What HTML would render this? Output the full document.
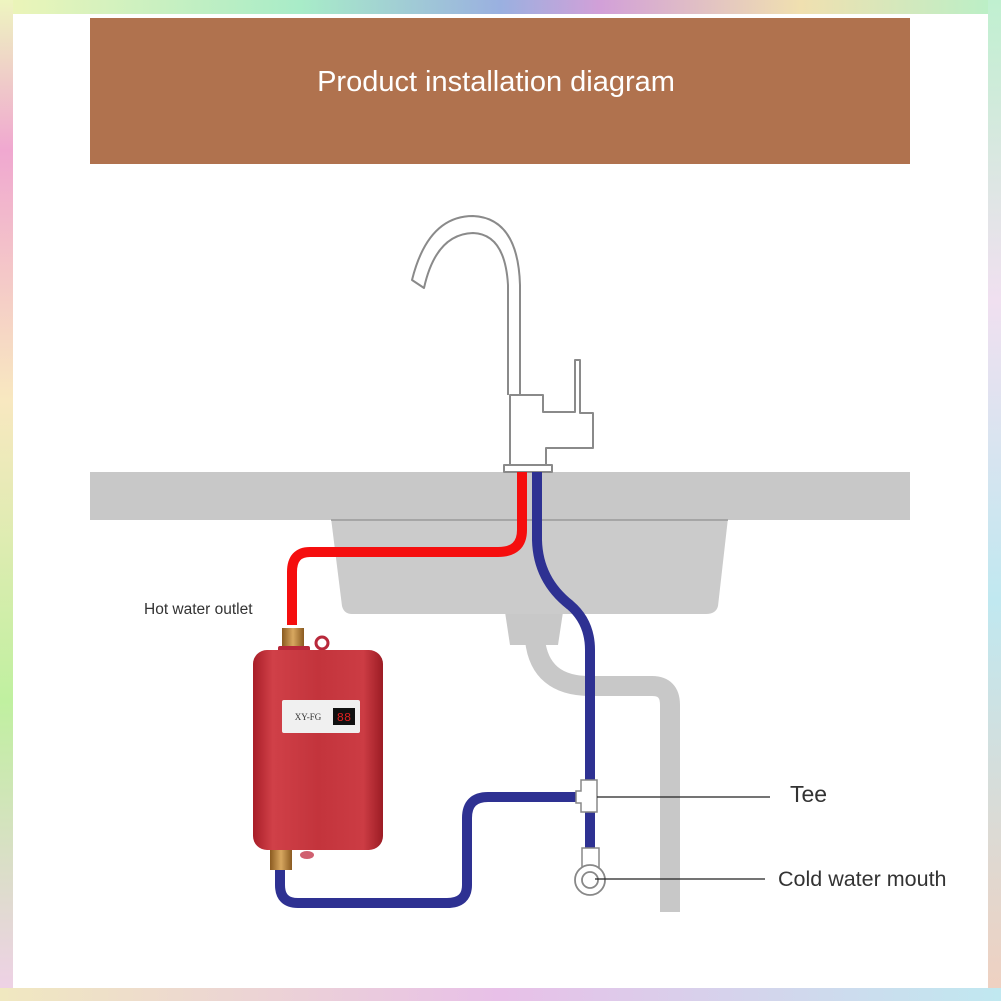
<!DOCTYPE html>
<html><head><meta charset="utf-8"><style>
html,body{margin:0;padding:0;width:1001px;height:1001px;overflow:hidden;background:#fff}
</style></head><body>
<svg width="1001" height="1001" viewBox="0 0 1001 1001" xmlns="http://www.w3.org/2000/svg" style="display:block">
<defs>
<linearGradient id="bt" x1="0" x2="1"><stop offset="0" stop-color="#eef5b8"/><stop offset="0.3" stop-color="#a8ecc8"/><stop offset="0.5" stop-color="#9ab0e0"/><stop offset="0.6" stop-color="#d2a0d8"/><stop offset="0.8" stop-color="#f0e0b0"/><stop offset="1" stop-color="#b8f0c8"/></linearGradient>
<linearGradient id="bl" x1="0" y1="0" x2="0" y2="1"><stop offset="0" stop-color="#eef5c0"/><stop offset="0.15" stop-color="#f0a8d0"/><stop offset="0.4" stop-color="#f8e8c0"/><stop offset="0.7" stop-color="#c0f0a0"/><stop offset="1" stop-color="#f0d0e8"/></linearGradient>
<linearGradient id="br" x1="0" y1="0" x2="0" y2="1"><stop offset="0" stop-color="#c0f0d0"/><stop offset="0.3" stop-color="#f0e0f0"/><stop offset="0.6" stop-color="#c0e8f0"/><stop offset="1" stop-color="#f0d0c0"/></linearGradient>
<linearGradient id="bb" x1="0" x2="1"><stop offset="0" stop-color="#f0e8c0"/><stop offset="0.5" stop-color="#e8c0e8"/><stop offset="1" stop-color="#c0e8f0"/></linearGradient>
<linearGradient id="red" x1="0" x2="1"><stop offset="0" stop-color="#a81e28"/><stop offset="0.15" stop-color="#d04048"/><stop offset="0.5" stop-color="#c3343c"/><stop offset="0.85" stop-color="#cc3c44"/><stop offset="1" stop-color="#9c1c24"/></linearGradient>
<linearGradient id="brass" x1="0" x2="1"><stop offset="0" stop-color="#8a5a20"/><stop offset="0.5" stop-color="#d8a860"/><stop offset="1" stop-color="#8a5a20"/></linearGradient>
</defs>
<rect width="1001" height="14" fill="url(#bt)"/>
<rect y="0" width="13" height="1001" fill="url(#bl)"/>
<rect x="988" y="0" width="13" height="1001" fill="url(#br)"/>
<rect y="988" width="1001" height="13" fill="url(#bb)"/>
<rect x="90" y="18" width="820" height="146" fill="#b0724e"/>
<text x="496" y="91" font-family="Liberation Sans, sans-serif" font-size="29" fill="#fff" text-anchor="middle">Product installation diagram</text>
<path d="M505 612 L563 612 L558 645 L510 645 Z" fill="#c8c8c8"/>
<path d="M535 640 Q540 686 590 686 L652 686 Q670 686 670 705 L670 912" fill="none" stroke="#c8c8c8" stroke-width="20"/>
<path d="M331 518 L728 518 L718 606 Q716 614 706 614 L352 614 Q344 614 342 606 Z" fill="#cbcbcb"/>
<rect x="90" y="472" width="820" height="48" fill="#c8c8c8"/>
<line x1="331" y1="520" x2="728" y2="520" stroke="#999" stroke-width="1.5"/>
<g fill="none" stroke="#8a8a8a" stroke-width="2" stroke-linejoin="round">
<path d="M520 395 L520 285 Q518 218 473 216 Q428 216 412 280 L424 288 Q436 234 473 233 Q505 234 508 285 L508 395"/>
<path d="M510 395 L543 395 L543 412 L575 412 L575 360 L580 360 L580 413 L593 413 L593 448 L546 448 L546 465 L510 465 Z"/>
<rect x="504" y="465" width="48" height="7"/>
</g>
<path d="M522 472 L522 530 Q522 552 498 552 L310 552 Q292 552 292 572 L292 625" fill="none" stroke="#f50e0e" stroke-width="10"/>
<g fill="none" stroke="#2e3192" stroke-width="10">
<path d="M537 472 L537 540 Q538 580 570 605 Q590 622 590 650 L590 850"/>
<path d="M580 797 L488 797 Q467 797 467 818 L467 885 Q467 903 447 903 L298 903 Q280 903 280 885 L280 862"/>
</g>
<path d="M581 780 L597 780 L597 812 L581 812 L581 803 L576 803 L576 791 L581 791 Z" fill="#fff" stroke="#888" stroke-width="1.5"/>
<rect x="582" y="848" width="17" height="22" fill="#fff" stroke="#888" stroke-width="1.5"/>
<circle cx="590" cy="880" r="15" fill="#fff" stroke="#888" stroke-width="1.8"/>
<circle cx="590" cy="880" r="8" fill="none" stroke="#888" stroke-width="1.8"/>
<line x1="597" y1="797" x2="770" y2="797" stroke="#222" stroke-width="1.2"/>
<line x1="595" y1="879" x2="765" y2="879" stroke="#222" stroke-width="1.2"/>
<text x="790" y="802" font-family="Liberation Sans, sans-serif" font-size="23" fill="#333">Tee</text>
<text x="778" y="886" font-family="Liberation Sans, sans-serif" font-size="21.5" fill="#333">Cold water mouth</text>
<text x="144" y="614" font-family="Liberation Sans, sans-serif" font-size="15.5" fill="#333">Hot water outlet</text>
<rect x="282" y="628" width="22" height="20" fill="url(#brass)"/>
<rect x="278" y="646" width="32" height="6" rx="2" fill="#b8283a"/>
<circle cx="322" cy="643" r="6" fill="none" stroke="#b8283a" stroke-width="3"/>
<rect x="253" y="650" width="130" height="200" rx="14" fill="url(#red)"/>
<rect x="282" y="700" width="78" height="33" rx="2" fill="#f0f0f0"/>
<text x="308" y="720" font-family="Liberation Serif, serif" font-size="9" fill="#333" text-anchor="middle">XY-FG</text>
<rect x="333" y="708" width="22" height="17" fill="#111"/>
<text x="344" y="721" font-family="Liberation Mono, monospace" font-size="12" fill="#e02020" text-anchor="middle">88</text>
<rect x="270" y="850" width="22" height="20" fill="url(#brass)"/>
<ellipse cx="307" cy="855" rx="7" ry="4" fill="#d06070"/>
</svg>
</body></html>
